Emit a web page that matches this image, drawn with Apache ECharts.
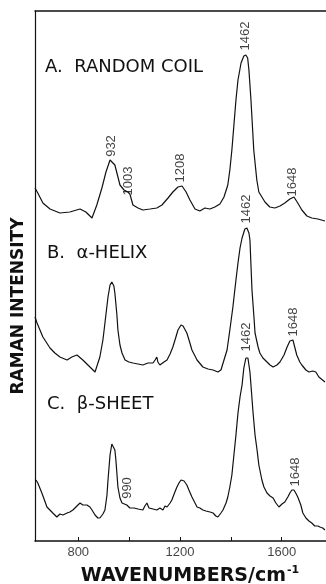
<!DOCTYPE html>
<html>
<head>
<meta charset="utf-8">
<script src="https://cdn.jsdelivr.net/npm/echarts@6/dist/echarts.min.js"></script>
<style>
html, body { margin: 0; padding: 0; background: #fff; }
#chart { width: 326px; height: 584px; }
</style>
</head>
<body>
<div id="chart"></div>
<script>
// spectra: [wavenumber, intensity (stacked, arbitrary units)]
let randomCoil = [
	[630, 353], [641, 348], [661, 338], [689, 332], [728, 328], [767, 329], [807, 332], [830, 329],
	[854, 323], [873, 336], [893, 353], [909, 369], [925, 381], [932, 383], [944, 376], [952, 368],
	[964, 356], [980, 351], [995, 349], [1003, 347], [1015, 336], [1035, 333], [1054, 331], [1082, 332],
	[1109, 333], [1129, 336], [1153, 343], [1172, 349], [1192, 354], [1208, 355], [1224, 349], [1239, 341],
	[1259, 332], [1278, 330], [1298, 333], [1318, 332], [1337, 334], [1357, 337], [1373, 344], [1388, 356],
	[1396, 371], [1404, 391], [1412, 416], [1420, 441], [1428, 461], [1440, 478], [1451, 485], [1459, 486],
	[1466, 483], [1471, 471], [1479, 441], [1490, 391], [1502, 361], [1510, 349], [1534, 339], [1553, 334],
	[1573, 333], [1593, 335], [1612, 338], [1632, 342], [1648, 344], [1663, 338], [1679, 331], [1699, 325],
	[1718, 323], [1742, 322], [1770, 320]
]
let alphaHelix = [
	[630, 224], [638, 218], [661, 204], [689, 193], [708, 188], [728, 184], [756, 181], [775, 184],
	[795, 186], [818, 181], [846, 174], [866, 169], [885, 184], [897, 201], [905, 218], [917, 244],
	[925, 256], [932, 259], [940, 255], [944, 248], [952, 226], [956, 211], [964, 196], [972, 188],
	[984, 181], [999, 179], [1015, 178], [1035, 177], [1054, 176], [1074, 178], [1094, 178], [1102, 181],
	[1109, 184], [1113, 179], [1121, 176], [1137, 179], [1149, 181], [1161, 187], [1172, 194], [1184, 204],
	[1192, 211], [1204, 216], [1212, 215], [1227, 208], [1239, 198], [1247, 191], [1267, 181], [1290, 174],
	[1310, 172], [1330, 171], [1349, 169], [1361, 171], [1373, 181], [1385, 191], [1396, 211], [1408, 234],
	[1420, 261], [1428, 278], [1436, 293], [1444, 303], [1455, 312], [1459, 314], [1463, 313], [1471, 308],
	[1475, 301], [1479, 276], [1483, 251], [1491, 223], [1495, 208], [1507, 194], [1514, 188], [1526, 183],
	[1542, 179], [1554, 176], [1566, 174], [1581, 176], [1593, 179], [1609, 186], [1621, 194], [1632, 200],
	[1644, 201], [1652, 193], [1659, 186], [1671, 179], [1679, 176], [1695, 171], [1707, 169], [1722, 170],
	[1734, 169], [1746, 164], [1770, 159]
]
let betaSheet = [
	[634, 61], [641, 58], [657, 48], [677, 34], [700, 28], [716, 24], [728, 27], [740, 26],
	[756, 28], [767, 29], [779, 31], [795, 35], [807, 38], [818, 36], [834, 36], [846, 34],
	[854, 31], [866, 26], [877, 23], [885, 23], [897, 27], [905, 31], [913, 46], [917, 61],
	[925, 86], [932, 97], [937, 98], [944, 91], [948, 81], [956, 54], [964, 43], [972, 38],
	[991, 36], [995, 34], [1003, 33], [1019, 33], [1035, 32], [1054, 31], [1062, 35], [1070, 38],
	[1078, 33], [1094, 32], [1109, 31], [1121, 33], [1133, 31], [1141, 35], [1149, 34], [1161, 38],
	[1168, 41], [1180, 49], [1188, 54], [1196, 58], [1204, 61], [1216, 60], [1227, 56], [1235, 51],
	[1247, 44], [1259, 38], [1267, 34], [1278, 33], [1290, 31], [1302, 30], [1318, 29], [1330, 28],
	[1341, 25], [1349, 24], [1361, 28], [1369, 31], [1381, 38], [1388, 44], [1396, 54], [1404, 66],
	[1412, 86], [1420, 106], [1428, 128], [1436, 144], [1444, 156], [1451, 173], [1459, 183], [1463, 185],
	[1467, 183], [1475, 169], [1479, 156], [1487, 129], [1495, 106], [1503, 91], [1510, 76], [1522, 61],
	[1530, 54], [1542, 48], [1554, 45], [1566, 43], [1577, 38], [1589, 34], [1601, 37], [1612, 39],
	[1624, 44], [1632, 48], [1640, 51], [1648, 51], [1655, 48], [1663, 44], [1675, 36], [1683, 28],
	[1695, 23], [1707, 20], [1718, 18], [1730, 15], [1742, 15], [1750, 14], [1761, 13], [1770, 11]
]
// peak labels: [wavenumber, height, text]
let peakLabels = [
	[932, 395, "932"], [999, 360, "1003"], [1200, 373, "1208"], [1457, 505, "1462"], [1642, 359, "1648"],
	[1463, 332, "1462"], [1644, 219, "1648"],
	[1463, 204, "1462"], [995, 53, "990"], [1652, 69, "1648"]
]
let xTicks = [800, 1000, 1200, 1400, 1600]
let xLabels = [800, 1200, 1600]
let panelNames = ["A.  RANDOM COIL", "B.  \u03b1-HELIX", "C.  \u03b2-SHEET"]

let chart = echarts.init(document.getElementById("chart"))

function trace(data) {
	return {
		type: "line",
		data: data,
		showSymbol: false,
		lineStyle: { color: "#111", width: 1.2 },
		silent: true
	}
}

let panelTops = [58, 244, 395]
let titles = panelNames.map(function (name, i) {
	return {
		text: name,
		left: i == 0 ? 45 : 47,
		top: panelTops[i],
		padding: 0,
		textStyle: { fontFamily: "DejaVu Sans", fontSize: 18, fontWeight: "normal", color: "#111", lineHeight: 18 }
	}
})
titles.push({
	text: "{a|WAVENUMBERS/cm}{b|-1}",
	left: 190,
	top: 565,
	textAlign: "center",
	padding: 0,
	textStyle: {
		rich: {
			a: { fontFamily: "DejaVu Sans", fontSize: 19, color: "#111", lineHeight: 22 },
			b: { fontFamily: "DejaVu Sans", fontSize: 11, color: "#111", verticalAlign: "top", padding: [0, 0, 12, 1] }
		}
	}
})

chart.setOption({
	animation: false,
	title: titles,
	grid: { left: 35, top: 11, right: 0, bottom: 43 },
	xAxis: [
		{
			type: "value",
			min: 630,
			max: 1774,
			axisLine: { show: true, onZero: false, lineStyle: { color: "#111", width: 1.5 } },
			axisTick: { show: false },
			axisLabel: { show: false },
			splitLine: { show: false }
		},
		{
			type: "value",
			position: "top",
			min: 630,
			max: 1774,
			axisLine: { show: true, onZero: false, lineStyle: { color: "#111", width: 1.5 } },
			axisTick: { show: false },
			axisLabel: { show: false },
			splitLine: { show: false }
		}
	],
	yAxis: {
		type: "value",
		min: 0,
		max: 530,
		name: "RAMAN INTENSITY",
		nameLocation: "middle",
		nameRotate: 90,
		nameGap: 8,
		nameTextStyle: {
			fontFamily: "DejaVu Sans",
			fontSize: 17,
			fontWeight: "bold",
			color: "#111",
			padding: [0, 60, 0, 0]
		},
		axisLine: { show: true, onZero: false, lineStyle: { color: "#111", width: 1.2 } },
		axisTick: { show: false },
		axisLabel: { show: false },
		splitLine: { show: false }
	},
	series: [
		trace(randomCoil),
		trace(alphaHelix),
		trace(betaSheet),
		{
			type: "scatter",
			symbolSize: 0,
			silent: true,
			data: peakLabels.map(function (p) {
				return { value: [p[0], p[1]], name: p[2] }
			}),
			label: {
				show: true,
				position: "inside",
				rotate: 90,
				formatter: function (d) {
					return d.name
				},
				color: "#111",
				fontFamily: "Liberation Sans",
				fontSize: 13
			}
		},
		{
			// wavenumber tick labels and inward ticks on the bottom axis
			type: "scatter",
			symbolSize: 0,
			silent: true,
			clip: false,
			data: xLabels.map(function (v) {
				return [v, 0]
			}),
			label: {
				show: true,
				position: "bottom",
				distance: 5,
				formatter: function (d) {
					return String(d.value[0])
				},
				color: "#111",
				fontFamily: "Liberation Sans",
				fontSize: 13
			},
			markLine: {
				silent: true,
				symbol: ["none", "none"],
				label: { show: false },
				lineStyle: { color: "#111", type: "solid", width: 1 },
				data: xTicks.map(function (v) {
					return [{ coord: [v, 0] }, { coord: [v, 4] }]
				})
			}
		}
	]
})
</script>
</body>
</html>
